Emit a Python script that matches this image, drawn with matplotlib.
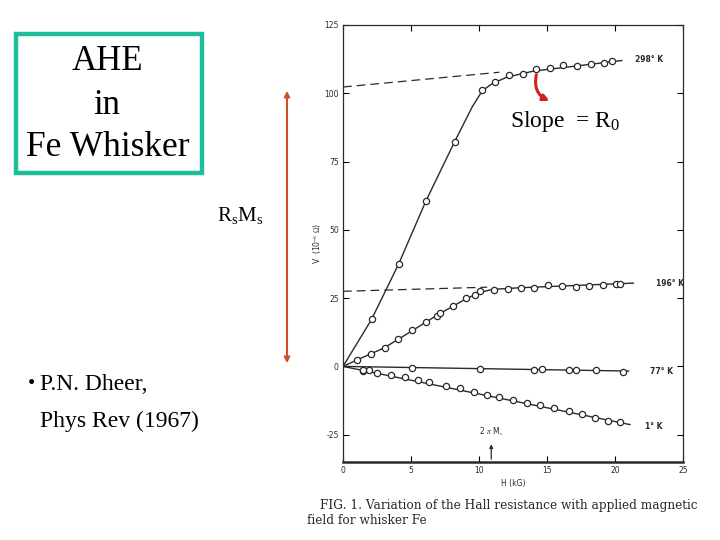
import matplotlib.pyplot as plt
from matplotlib.patches import Rectangle, FancyArrowPatch

plt.rcParams['mathtext.fontset'] = 'custom'
plt.rcParams['mathtext.rm'] = 'Liberation Serif'
plt.rcParams['mathtext.it'] = 'Liberation Serif:italic'
plt.rcParams['axes.unicode_minus'] = False

# measured points, H (kG) and V (10^-8 ohm)
h298 = [2.1, 4.1, 6.1, 8.2, 10.25, 11.2, 12.2, 13.2, 14.2, 15.2, 16.2, 17.2, 18.2, 19.2, 19.75]
v298 = [17.2, 37.6, 60.6, 82.2, 101.1, 104.1, 106.6, 107.2, 108.8, 109.1, 110.2, 110.0, 110.8, 111.0, 111.7]
h196 = [1.05, 2.06, 3.09, 4.07, 5.1, 6.1, 6.93, 7.13, 8.07, 9.04, 9.7, 10.1, 11.1, 12.1, 13.07, 14.07,
        15.05, 16.1, 17.1, 18.1, 19.1, 20.1, 20.4]
v196 = [2.2, 4.7, 6.8, 9.9, 13.3, 16.2, 18.6, 19.6, 22.0, 24.9, 26.0, 27.7, 27.8, 28.3, 28.7, 28.7,
        29.9, 29.6, 29.1, 29.3, 29.9, 30.2, 30.2]
h77 = [1.5, 1.9, 5.1, 10.1, 14.07, 14.6, 16.6, 17.1, 18.6, 20.6]
v77 = [-1.5, -1.2, -0.7, -1.1, -1.3, -1.1, -1.3, -1.3, -1.3, -2.1]
h1 = [1.5, 2.5, 3.5, 4.56, 5.5, 6.3, 7.6, 8.6, 9.6, 10.6, 11.5, 12.5, 13.55, 14.5, 15.5, 16.6,
      17.55, 18.5, 19.5, 20.4]
v1 = [-1.3, -2.3, -3.2, -3.8, -4.9, -5.7, -7.0, -8.0, -9.4, -10.3, -11.3, -12.3, -13.5, -14.2, -15.4,
      -16.5, -17.5, -18.8, -20.0, -20.3]

# drawn curves through the points
c298_h = [0, 2.1, 4.1, 6.1, 8.2, 9.5, 10.25, 11, 12, 13, 14, 20.5]
c298_v = [0, 17.2, 37.6, 60.6, 82.2, 95, 101, 103.6, 105.8, 107, 108.1, 112]
c196_h = [0, 1, 3, 5, 7, 9, 10, 11, 13, 21.35]
c196_v = [0, 2.3, 6.7, 12.8, 19, 24.6, 27, 28.2, 28.8, 30.5]
c77_h = [0, 21]
c77_v = [0, -1.7]
c1_h = [0, 21.1]
c1_v = [0, -21.3]
# extrapolated high-field lines
d298_h = [0, 11.5]
d298_v = [102.3, 107.7]
d196_h = [0, 10.6]
d196_v = [27.5, 29.0]

labels = ['298° K', '196° K', '77° K', '1° K']
label_pos = [(21.5, 112.2), (23.0, 30.3), (22.6, -1.8), (22.2, -22.0)]

ink = '#2a2a2a'

fig = plt.figure(figsize=(7.2, 5.4), dpi=100)
ax = fig.add_axes([343/720, 1-462/540, 340/720, 437/540])

for ch, cv in [(c298_h, c298_v), (c196_h, c196_v), (c77_h, c77_v), (c1_h, c1_v)]:
    ax.plot(ch, cv, color=ink, lw=1.0)
for dh, dv in [(d298_h, d298_v), (d196_h, d196_v)]:
    ax.plot(dh, dv, color=ink, lw=0.9, ls=(0, (7, 4)))
for hh, vv in [(h298, v298), (h196, v196), (h77, v77), (h1, v1)]:
    ax.plot(hh, vv, 'o', mfc='white', mec=ink, mew=0.9, ms=4.5)
for lab, (x, y) in zip(labels, label_pos):
    ax.text(x, y, lab, fontsize=5.5, color=ink, va='center', fontweight='bold')

ax.annotate('', xy=(10.9, -27.5), xytext=(10.9, -35),
            arrowprops=dict(arrowstyle='-|>', color=ink, lw=0.9, mutation_scale=5))
ax.text(10.9, -23.8, r'2 $\pi$ M$_s$', fontsize=5.5, ha='center', va='center', color=ink)

ax.set_xlim(0, 25)
ax.set_ylim(-35, 125)
ax.set_xticks([0, 5, 10, 15, 20, 25])
ax.set_yticks([-25, 0, 25, 50, 75, 100, 125])
ax.tick_params(direction='in', top=True, right=True, length=4, width=0.8, labelsize=5.5,
               labelcolor=ink, pad=3)
for s in ax.spines.values():
    s.set_linewidth(0.9)
    s.set_color(ink)
ax.spines['bottom'].set_linewidth(1.8)
ax.set_xlabel('H (kG)', fontsize=5.5, color=ink, labelpad=3)
ax.set_ylabel(r'V  (10$^{-8}$ $\Omega$)', fontsize=5.5, color=ink, labelpad=1)

# slide annotations in pixel coordinates
ov = fig.add_axes([0, 0, 1, 1], facecolor='none')
ov.set_xlim(0, 720)
ov.set_ylim(540, 0)
ov.axis('off')

ov.add_patch(Rectangle((16, 34), 186, 139, fill=False, edgecolor='#1DBF9B', lw=3.2))
ov.text(107, 62, 'AHE', fontsize=25, family='Liberation Serif', ha='center', va='center')
ov.text(107, 105, 'in', fontsize=25, family='Liberation Serif', ha='center', va='center')
ov.text(108, 147, 'Fe Whisker', fontsize=25.5, family='Liberation Serif', ha='center', va='center')

ov.add_patch(FancyArrowPatch((287, 366), (287, 88), arrowstyle='<|-|>', color='#D0502A',
                             lw=1.5, mutation_scale=8))
ov.text(240, 216, r'R$_{\rm s}$M$_{\rm s}$', fontsize=15, family='Liberation Serif',
        ha='center', va='center')

ov.text(510, 122, r'Slope  = R$_{\rm 0}$', fontsize=17, family='Liberation Serif',
        ha='left', va='center')
ov.add_patch(FancyArrowPatch((537, 72), (552, 102), arrowstyle='-|>', color='#D02020',
                             lw=2.2, mutation_scale=9, connectionstyle='arc3,rad=0.45'))

ov.text(28, 385, '•', fontsize=15, family='Liberation Serif', ha='left', va='center')
ov.text(40, 385, 'P.N. Dheer,', fontsize=17, family='Liberation Serif', ha='left', va='center')
ov.text(40, 421, 'Phys Rev (1967)', fontsize=17, family='Liberation Serif', ha='left', va='center')

ov.text(320, 506, 'FIG. 1. Variation of the Hall resistance with applied magnetic',
        fontsize=8.7, family='DejaVu Serif', color=ink, ha='left', va='center')
ov.text(307, 520, 'field for whisker Fe', fontsize=8.7, family='DejaVu Serif', color=ink,
        ha='left', va='center')

fig.savefig('out.png', dpi=100)
